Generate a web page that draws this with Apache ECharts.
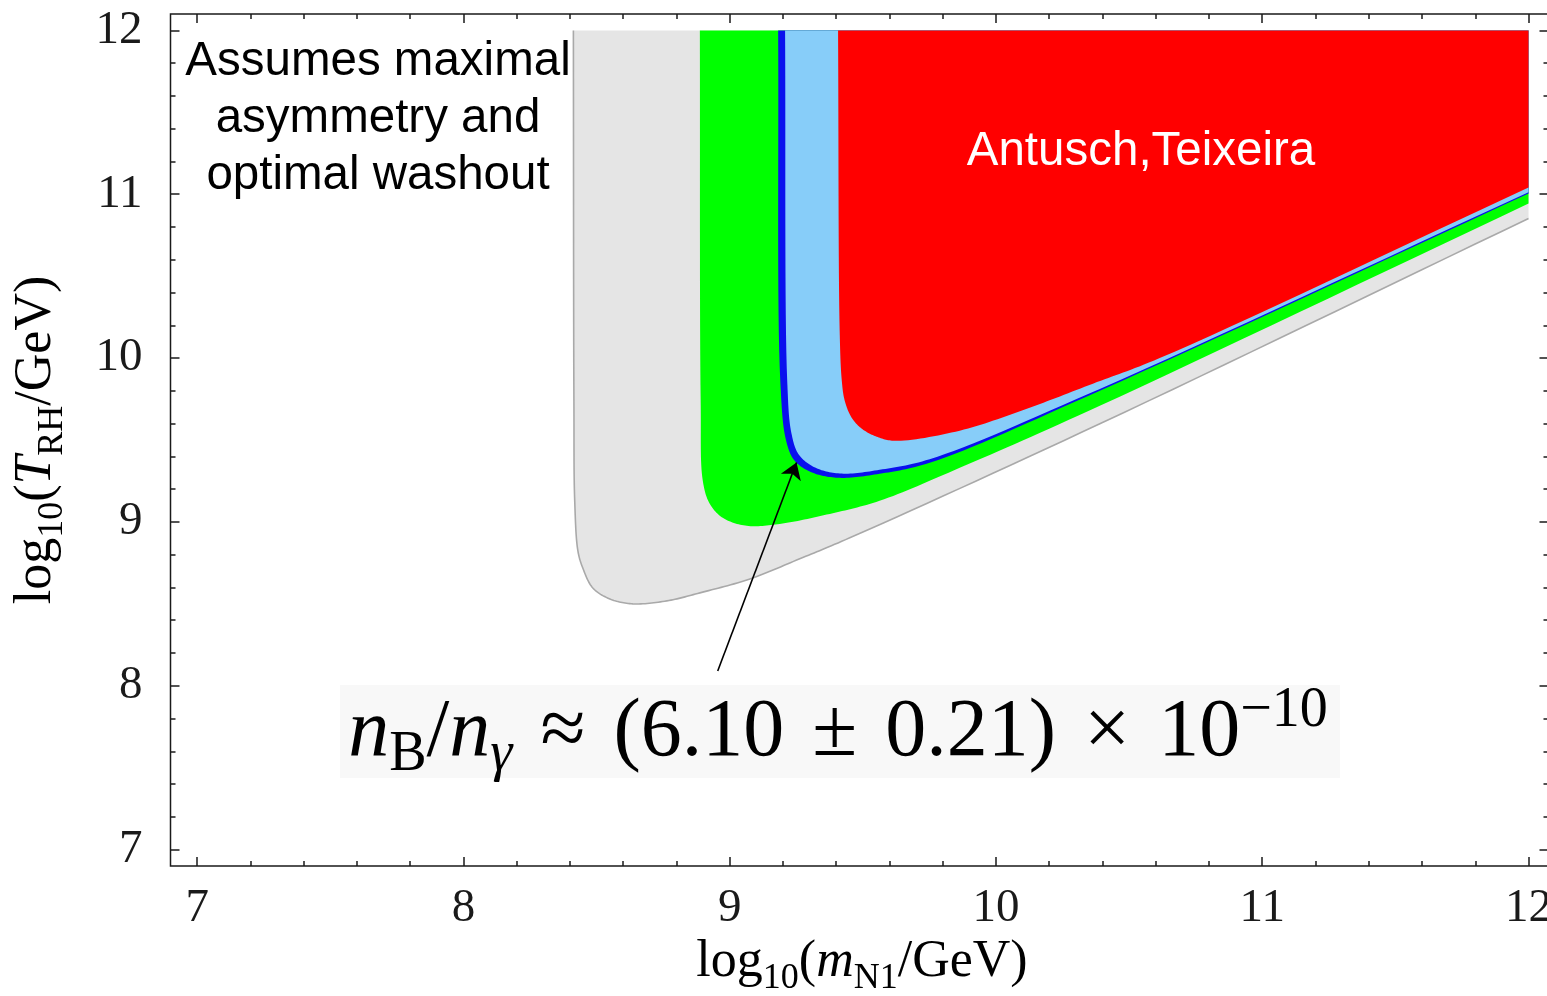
<!DOCTYPE html>
<html>
<head>
<meta charset="utf-8">
<title>log10(T_RH) vs log10(m_N1)</title>
<script src="https://cdn.jsdelivr.net/npm/echarts@6.0.0/dist/echarts.min.js"></script>
<style>
  html, body { margin: 0; padding: 0; background: #fff; }
  #chart { width: 1547px; height: 996px; }
</style>
</head>
<body>
<div id="chart"></div>
<script>
// axis ticks
const xMajor = [7, 8, 9, 10, 11, 12]
const yMajor = [7, 8, 9, 10, 11, 12]
const xMinor = []
const yMinor = []
for (let i = 36; i <= 60; i++) {
  const v = +(i * 0.2).toFixed(1)
  if (v >= 6.9 && v <= 12.07) xMinor.push(v)
  if (v >= 6.9 && v <= 12.1) yMinor.push(v)
}

// region outlines, [log10(mN1), log10(TRH)]
// last point closes the shape at the top right corner
const grayRegion = [
  [8.413, 12.0], [8.415, 9.74], [8.418, 9.13], [8.43, 8.823], [8.448, 8.72],
  [8.486, 8.597], [8.55, 8.53], [8.636, 8.5], [8.764, 8.518], [8.888, 8.567],
  [9.076, 8.652], [9.263, 8.775], [9.451, 8.903], [10.39, 9.599], [12.0, 10.852],
  [12.0, 12.0]
]
const greenRegion = [
  [8.888, 12.0], [8.891, 9.74], [8.899, 9.251], [8.925, 9.111], [8.974, 9.025],
  [9.064, 8.976], [9.188, 8.988], [9.376, 9.049], [9.563, 9.129], [9.864, 9.33],
  [10.39, 9.709], [12.0, 10.943], [12.0, 12.0]
]
const blueLine = [
  [9.182, 12.0], [9.19, 9.862], [9.212, 9.495], [9.244, 9.373], [9.312, 9.3],
  [9.413, 9.269], [9.563, 9.294], [9.751, 9.361], [10.39, 9.801], [12.0, 11.004],
  [12.0, 12.0]
]
const lightBlueRegion = [
  [9.208, 12.0], [9.216, 9.862], [9.232, 9.54], [9.26, 9.41], [9.323, 9.33],
  [9.42, 9.295], [9.563, 9.318], [9.751, 9.383], [10.39, 9.812], [12.0, 11.012],
  [12.0, 12.0]
]
const redRegion = [
  [9.407, 12.0], [9.413, 10.167], [9.421, 9.862], [9.432, 9.74], [9.458, 9.636],
  [9.496, 9.569], [9.552, 9.52], [9.62, 9.495], [9.864, 9.557], [10.116, 9.691],
  [10.364, 9.844], [10.615, 10.0], [12.0, 11.041], [12.0, 12.0]
]
const arrowTail = [8.955, 8.09]
const arrowTip = [9.251, 9.363]

const serif = '"Liberation Serif", "Times New Roman", serif'
const sans = '"Liberation Sans", Arial, sans-serif'
const ink = '#1a1a1a'

// centripetal catmull-rom through the pixel points, only used for drawing
function smoothPath(pts, steps) {
  const out = []
  const n = pts.length
  const lerp = function (a, b, ta, tb, t) {
    const k = (t - ta) / (tb - ta)
    return [a[0] + (b[0] - a[0]) * k, a[1] + (b[1] - a[1]) * k]
  }
  const knot = function (t, a, b) {
    return t + Math.pow(Math.hypot(b[0] - a[0], b[1] - a[1]), 0.5) + 1e-6
  }
  for (let i = 0; i < n - 1; i++) {
    const p1 = pts[i]
    const p2 = pts[i + 1]
    const p0 = i > 0 ? pts[i - 1] : [2 * p1[0] - p2[0], 2 * p1[1] - p2[1]]
    const p3 = i + 2 < n ? pts[i + 2] : [2 * p2[0] - p1[0], 2 * p2[1] - p1[1]]
    const t0 = 0
    const t1 = knot(t0, p0, p1)
    const t2 = knot(t1, p1, p2)
    const t3 = knot(t2, p2, p3)
    for (let s = 0; s < steps; s++) {
      const t = t1 + (t2 - t1) * s / steps
      const a1 = lerp(p0, p1, t0, t1, t)
      const a2 = lerp(p1, p2, t1, t2, t)
      const a3 = lerp(p2, p3, t2, t3, t)
      const b1 = lerp(a1, a2, t0, t2, t)
      const b2 = lerp(a2, a3, t1, t3, t)
      out.push(lerp(b1, b2, t1, t2, t))
    }
  }
  out.push(pts[n - 1])
  return out
}

function region(name, pts, fill, edge) {
  return {
    type: 'custom',
    name: name,
    silent: true,
    clip: true,
    data: [0],
    renderItem: function (params, api) {
      const px = pts.map(function (p) { return api.coord(p) })
      const curve = smoothPath(px.slice(0, px.length - 1), 16)
      const children = [{
        type: 'polygon',
        shape: { points: curve.concat([px[px.length - 1]]) },
        style: { fill: fill }
      }]
      if (edge) {
        children.push({
          type: 'polyline',
          shape: { points: curve },
          style: { fill: 'none', stroke: edge, lineWidth: 1.6 }
        })
      }
      return { type: 'group', children: children }
    }
  }
}

function tickAxis(pos, values, len, withLabel) {
  const isX = pos === 'top' || pos === 'bottom'
  return {
    type: 'value',
    position: pos,
    min: 6.9,
    max: isX ? 12.075 : 12.1,
    axisLine: { show: false },
    splitLine: { show: false },
    axisTick: {
      show: true,
      inside: true,
      length: len,
      customValues: values,
      lineStyle: { color: ink, width: 1.5 }
    },
    axisLabel: {
      show: withLabel,
      customValues: values,
      fontFamily: serif,
      fontSize: 47,
      color: ink,
      margin: isX ? 19 : 28
    }
  }
}

const nameRich = {
  m: { fontFamily: serif, fontSize: 52, lineHeight: 70, color: ink },
  i: { fontFamily: serif, fontSize: 52, lineHeight: 70, color: ink, fontStyle: 'italic' },
  s: { fontFamily: serif, fontSize: 36, lineHeight: 29, color: ink, verticalAlign: 'bottom' }
}

const formulaRich = {
  i: { fontFamily: serif, fontSize: 82, lineHeight: 100, color: ink, fontStyle: 'italic' },
  m: { fontFamily: serif, fontSize: 82, lineHeight: 100, color: ink },
  op: { fontFamily: serif, fontSize: 82, lineHeight: 100, color: ink, padding: [0, 28, 0, 28] },
  s: { fontFamily: serif, fontSize: 56, lineHeight: 44, color: ink, verticalAlign: 'bottom' },
  si: { fontFamily: serif, fontSize: 56, lineHeight: 44, color: ink, verticalAlign: 'bottom', fontStyle: 'italic' },
  p: { fontFamily: serif, fontSize: 56, lineHeight: 48, color: ink, verticalAlign: 'top' }
}

const chart = echarts.init(document.getElementById('chart'))
chart.setOption({
  backgroundColor: '#fff',
  animation: false,
  grid: {
    show: true,
    left: 170.5,
    top: 14,
    width: 1378,
    height: 852,
    outerBoundsMode: 'none',
    containLabel: false,
    borderColor: ink,
    borderWidth: 1.5,
    backgroundColor: 'transparent'
  },
  xAxis: [
    tickAxis('bottom', xMajor, 9, true),
    tickAxis('bottom', xMinor, 5, false),
    tickAxis('top', xMajor, 9, false),
    tickAxis('top', xMinor, 5, false)
  ],
  yAxis: [
    tickAxis('left', yMajor, 9, true),
    tickAxis('left', yMinor, 5, false),
    tickAxis('right', yMajor, 9, false),
    tickAxis('right', yMinor, 5, false)
  ],
  series: [
    region('gray', grayRegion, '#e5e5e5', '#a9a9a9'),
    region('green', greenRegion, '#00ff00'),
    region('blue', blueLine, '#0a10ee'),
    region('lightblue', lightBlueRegion, '#87cdf9'),
    region('red', redRegion, '#ff0000'),
    {
      type: 'lines',
      coordinateSystem: 'cartesian2d',
      silent: true,
      symbol: ['none', 'arrow'],
      symbolSize: 16,
      lineStyle: { color: '#000', width: 1.6, opacity: 1 },
      data: [{ coords: [arrowTail, arrowTip] }],
      z: 5
    }
  ],
  graphic: [
    {
      type: 'rect',
      z: 0,
      shape: { x: 340, y: 685, width: 1000, height: 93 },
      style: { fill: '#f8f8f8' }
    },
    {
      type: 'text',
      z: 10,
      x: 838,
      y: 733,
      style: {
        text: '{i|n}{s|B}{m|/}{i|n}{si|γ}{op|≈}{m|(6.10}{op|±}{m|0.21)}{op|×}{m|10}{p|−10}',
        rich: formulaRich,
        align: 'center',
        verticalAlign: 'middle'
      }
    },
    {
      type: 'text',
      z: 10,
      x: 862,
      y: 962,
      style: {
        text: '{m|log}{s|10}{m|(}{i|m}{s|N1}{m|/GeV)}',
        rich: nameRich,
        align: 'center',
        verticalAlign: 'middle'
      }
    },
    {
      type: 'text',
      z: 10,
      x: 36,
      y: 440,
      rotation: Math.PI / 2,
      style: {
        text: '{m|log}{s|10}{m|(}{i|T}{s|RH}{m|/GeV)}',
        rich: nameRich,
        align: 'center',
        verticalAlign: 'middle'
      }
    },
    {
      type: 'text',
      z: 10,
      x: 378,
      y: 33,
      style: {
        text: 'Assumes maximal\nasymmetry and\noptimal washout',
        fontFamily: sans,
        fontSize: 47.5,
        lineHeight: 57,
        fill: '#000',
        align: 'center',
        verticalAlign: 'top'
      }
    },
    {
      type: 'text',
      z: 10,
      x: 1141,
      y: 152,
      style: {
        text: 'Antusch,Teixeira',
        fontFamily: sans,
        fontSize: 47.5,
        fill: '#fff',
        align: 'center',
        verticalAlign: 'middle'
      }
    }
  ]
})
</script>
</body>
</html>
